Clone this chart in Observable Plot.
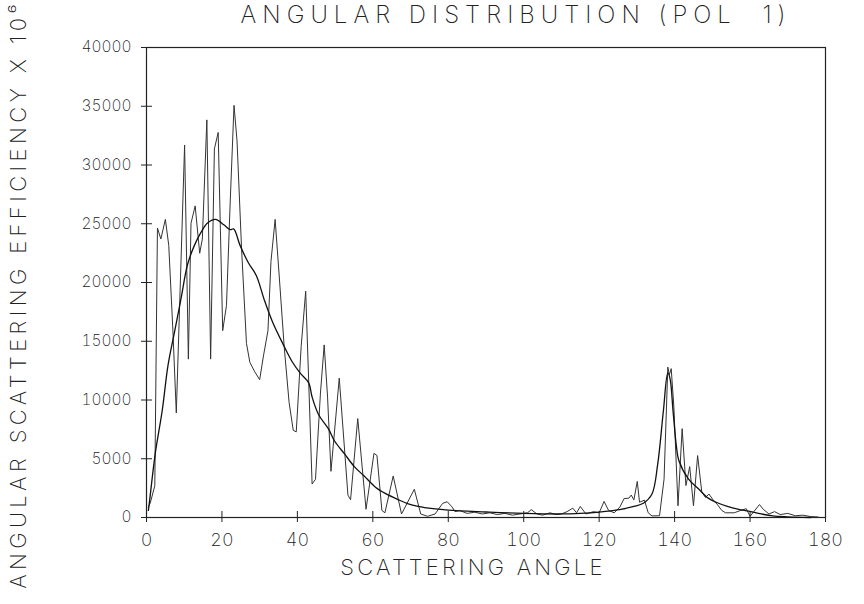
<!DOCTYPE html>
<html>
<head>
<meta charset="utf-8">
<script src="https://cdn.jsdelivr.net/npm/d3@7"></script>
<script src="https://cdn.jsdelivr.net/npm/@observablehq/plot@0.6"></script>
<style>
  html, body { margin: 0; padding: 0; background: #fff; }
  #chart svg { display: block; }
  #chart text { font-family: Inter, Lato, "DejaVu Sans", sans-serif; font-weight: 200; fill: #222; }
</style>
</head>
<body>
<div id="chart"></div>
<script>
const title = "ANGULAR DISTRIBUTION (POL  1)";
const xLabel = "SCATTERING ANGLE";
const yLabel = "ANGULAR SCATTERING EFFICIENCY X 10⁶";
const xTicks = [0, 20, 40, 60, 80, 100, 120, 140, 160, 180];
const yTicks = [0, 5000, 10000, 15000, 20000, 25000, 30000, 35000, 40000];

// oscillating (computed) distribution: [angle, value]
const oscAngle = [0.5,1.0,2.2,2.9,3.8,5.0,5.9,7.0,7.9,10.1,11.1,11.8,12.9,14.1,14.8,16.0,17.0,18.0,19.0,20.2,21.2,22.2,23.2,24.0,25.2,26.5,27.4,28.7,30.0,31.0,32.2,33.0,34.1,35.2,36.5,37.8,38.9,39.7,41.0,42.2,43.9,44.8,46.1,47.1,48.0,48.9,51.1,53.4,54.1,56.0,58.2,60.3,61.1,62.4,63.2,65.4,67.6,71.0,72.7,74.5,76.5,78.5,79.7,81.0,81.8,83.0,85.0,87.0,89.0,91.0,93.0,95.0,97.0,99.0,101.0,102.0,103.5,105.0,107.0,108.5,110.0,111.5,113.0,114.0,115.0,116.5,118.5,120.0,121.3,122.5,124.0,125.5,126.6,127.9,128.5,129.2,130.1,130.7,132.0,133.0,134.0,136.0,137.2,138.2,138.6,139.1,139.8,140.9,142.0,143.0,144.0,145.0,146.1,147.2,148.2,149.1,150.2,151.4,152.5,153.5,155.8,157.5,159.0,160.0,161.0,162.5,163.5,165.0,166.5,168.0,170.0,172.0,174.0,176.0,178.0];
const oscValue = [900,1240,2700,24640,23700,25370,23160,15900,8900,31700,13480,25040,26520,22490,23700,33840,13480,31370,32770,15900,18050,26930,35080,32040,22900,14820,13210,12400,11730,13750,15900,21800,25370,20470,14550,9800,7420,7290,14550,19260,2850,3250,10520,14690,10250,3930,11860,1910,1510,8420,700,5460,5280,600,400,3530,300,2400,300,100,300,1200,1345,900,500,600,350,450,300,400,250,350,200,300,400,670,300,200,400,250,300,500,800,400,940,300,500,400,1370,600,400,900,1610,1650,1910,1500,3070,1300,1480,400,135,150,3260,12800,12140,12670,9440,1000,7560,2720,4330,1000,5270,2180,1700,2000,1500,1076,600,400,400,600,750,100,500,1100,700,300,500,250,350,150,200,80,50];

// smooth (averaged) distribution: [angle, value]
const smoothAngle = [0.5,0.8,2.3,4.2,5.7,7.5,9.2,10.9,12.7,14.4,16.1,18.3,20.5,22.2,23.1,24.8,27.0,29.1,31.3,33.5,36.1,38.7,40.8,43.0,43.9,45.6,48.2,49.9,52.5,55.1,57.7,60.7,63.3,66.8,69.4,72.0,76.0,80.0,90.0,100.0,110.0,115.0,120.0,125.4,129.2,131.7,134.0,135.5,137.0,138.2,138.8,139.6,140.5,141.1,143.7,146.3,148.9,151.0,154.0,157.0,159.6,163.0,166.0,170.0,176.0];
const smoothValue = [600,1370,5400,9170,12940,15900,18720,21550,23160,24240,25040,25370,24910,24500,24560,23160,21680,20600,18450,16570,14820,13210,12270,11460,10250,8770,7560,6490,5410,4330,3530,2580,2050,1510,1160,950,750,620,470,350,300,350,460,670,940,1210,2000,4500,9000,12300,11800,9000,6000,4870,3260,2450,1650,1300,950,700,540,300,135,60,0];

const osc = oscAngle.map((a, i) => ({angle: a, value: oscValue[i]}));
const smooth = smoothAngle.map((a, i) => ({angle: a, value: smoothValue[i]}));

const chart = Plot.plot({
  width: 864,
  height: 604,
  marginLeft: 146,
  marginRight: 39,
  marginTop: 47,
  marginBottom: 87,
  style: {fontSize: "16px", color: "#222", background: "#fff"},
  x: {domain: [0, 180], ticks: xTicks},
  y: {domain: [0, 40000], ticks: yTicks},
  marks: [
    Plot.frame({stroke: "#222", strokeWidth: 1.2}),
    Plot.line(osc, {x: "angle", y: "value", stroke: "#333", strokeWidth: 1}),
    Plot.line(smooth, {x: "angle", y: "value", stroke: "#111", strokeWidth: 1.3, curve: "catmull-rom"}),
    Plot.axisY({ticks: yTicks, tickSize: 11, dx: 6, stroke: "#222", tickFormat: () => "", label: null}),
    Plot.axisY({ticks: yTicks, tickSize: 0, tickPadding: 15, fontSize: 15.5, tickFormat: d => String(d), label: null}),
    Plot.axisX({ticks: xTicks, tickSize: 11, dy: -6, stroke: "#222", tickFormat: () => "", label: null}),
    Plot.axisX({ticks: xTicks, tickSize: 0, tickPadding: 16, fontSize: 18, tickFormat: d => String(d), label: null}),
    Plot.text([xLabel], {frameAnchor: "bottom", dx: -13, dy: 57, text: d => d, fontSize: 22}),
    Plot.text([yLabel], {frameAnchor: "left", dx: -128, dy: 12, rotate: -90, textAnchor: "middle", text: d => d, fontSize: 22}),
    Plot.text([title], {frameAnchor: "top", dx: 30, dy: -42, text: d => d, fontSize: 24})
  ]
});
document.getElementById("chart").appendChild(chart);

// letter spacing of the plotter-style titles
const spacing = new Map([[title, "6px"], [xLabel, "3.2px"], [yLabel, "4.4px"]]);
d3.select(chart).selectAll("text").each(function () {
  const s = spacing.get(this.textContent);
  if (s) this.style.letterSpacing = s;
});
</script>
</body>
</html>
